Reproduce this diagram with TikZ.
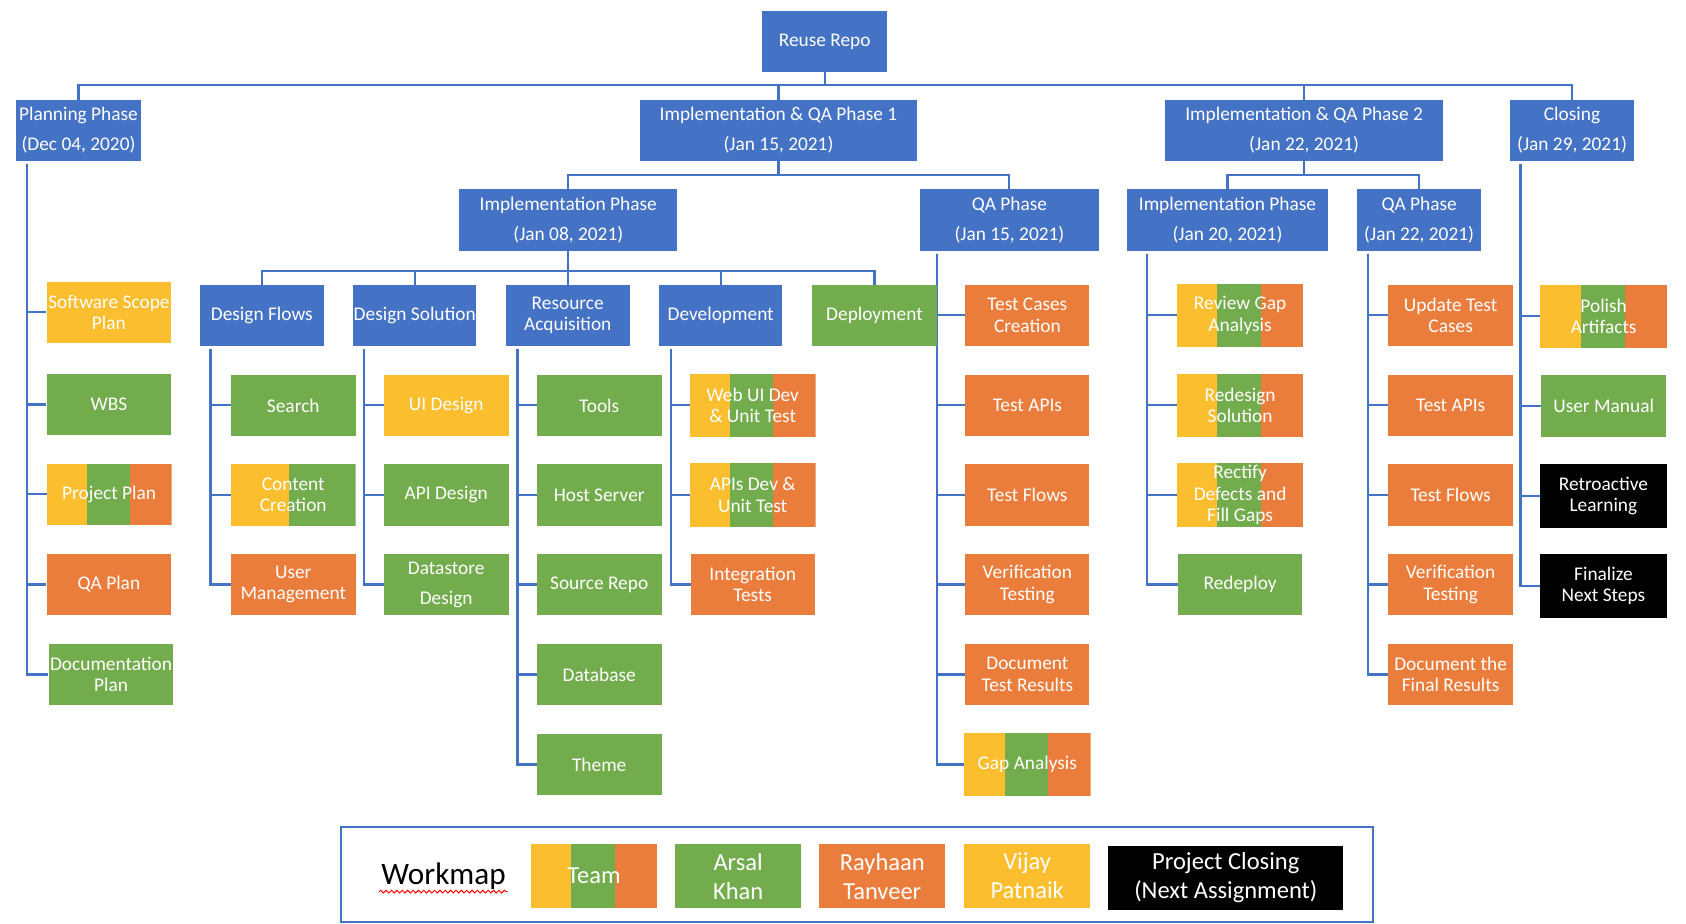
\documentclass[tikz,border=0pt]{standalone}
\usepackage{fontspec}
\setmainfont{Carlito}
\usetikzlibrary{calc,backgrounds,decorations.pathmorphing}
\definecolor{cb}{HTML}{4472C4}
\definecolor{co}{HTML}{EB7D3C}
\definecolor{cg}{HTML}{72AC4D}
\definecolor{cy}{HTML}{FBBE2E}
\begin{document}
\begin{tikzpicture}[x=1pt,y=-1pt,
  lvl/.style={fill=cb, text=white, inner sep=0pt, align=center, font=\fontsize{18}{28}\selectfont},
  box/.style={fill=#1, text=white, minimum width=116pt, minimum height=57pt, inner sep=0pt, align=center, font=\fontsize{18}{20}\selectfont},
  tri/.style={box=none, path picture={
    \path (path picture bounding box.south west) coordinate (ppA)
          (path picture bounding box.north east) coordinate (ppB);
    \fill[cy] (ppA) rectangle ($(ppA|-ppB)!0.32!(ppB)$);
    \fill[cg] ($(ppA)!0.32!(ppB|-ppA)$) rectangle ($(ppA|-ppB)!0.665!(ppB)$);
    \fill[co] ($(ppA)!0.665!(ppB|-ppA)$) rectangle (ppB);
  }},
  duo/.style={box=none, path picture={
    \path (path picture bounding box.south west) coordinate (ppA)
          (path picture bounding box.north east) coordinate (ppB);
    \fill[cy] (ppA) rectangle ($(ppA|-ppB)!0.463!(ppB)$);
    \fill[cg] ($(ppA)!0.463!(ppB|-ppA)$) rectangle (ppB);
  }},
  leg/.style={minimum width=117pt, minimum height=59.2pt, inner sep=0pt, align=center, text=white, font=\fontsize{22.8}{27}\selectfont},
  conn/.style={draw=cb, line width=2pt}
]
\useasboundingbox (0,0) rectangle (1568,859.3);

% ---- top levels
\node[lvl, minimum width=116pt, minimum height=56.4pt] (repo) at (767,38.5) {Reuse Repo};
\node[lvl, minimum width=116pt, minimum height=56.5pt] (plan) at (73,121.3) {Planning Phase\\(Dec 04, 2020)};
\node[lvl, minimum width=258pt, minimum height=56.5pt] (iqa1) at (724,121.3) {Implementation \& QA Phase 1\\(Jan 15, 2021)};
\node[lvl, minimum width=258.2pt, minimum height=56.5pt] (iqa2) at (1212.8,121.3) {Implementation \& QA Phase 2\\(Jan 22, 2021)};
\node[lvl, minimum width=114.6pt, minimum height=56.5pt] (clos) at (1462,121.3) {Closing\\(Jan 29, 2021)};

\node[lvl, minimum width=203pt, minimum height=57.4pt] (ip1) at (528.5,204.5) {Implementation Phase\\(Jan 08, 2021)};
\node[lvl, minimum width=166.1pt, minimum height=57.4pt] (qa1) at (938.75,204.5) {QA Phase\\(Jan 15, 2021)};
\node[lvl, minimum width=186.5pt, minimum height=57.4pt] (ip2) at (1141.55,204.5) {Implementation Phase\\(Jan 20, 2021)};
\node[lvl, minimum width=115pt, minimum height=57.4pt] (qa2) at (1319.8,204.5) {QA Phase\\(Jan 22, 2021)};

\node[box=cb, minimum width=115pt] (df) at (243.5,293.3) {Design Flows};
\node[box=cb, minimum width=114.5pt] (ds) at (385.75,293.3) {Design Solution};
\node[box=cb, minimum width=115pt] (ra) at (528,293.3) {Resource\\Acquisition};
\node[box=cb, minimum width=114.5pt] (dev) at (670.25,293.3) {Development};
\node[box=cg, minimum width=116.6pt] (dep) at (813.3,293.3) {Deployment};

% ---- planning children
\node[box=cy] (ssp) at (101.3,290.5) {Software Scope\\Plan};
\node[box=cg] (wbs) at (101.3,376.2) {WBS};
\node[tri] (pp) at (101.5,459.8) {Project Plan};
\node[box=co] (qap) at (101.3,543.6) {QA Plan};
\node[box=cg] (docp) at (103.3,627.3) {Documentation\\Plan};

% ---- design flows children
\node[box=cg] (search) at (272.75,377) {Search};
\node[duo] (cc) at (272.75,460.3) {Content\\Creation};
\node[box=co] (um) at (272.75,543.6) {User\\Management};

% ---- design solution children
\node[box=cy] (uid) at (415,377) {UI Design};
\node[box=cg] (apid) at (415,460.3) {API Design};
\node[box=cg, font=\fontsize{18}{28}\selectfont] (dsd) at (415,543.6) {Datastore\\Design};

% ---- resource acquisition children
\node[box=cg] (tools) at (557.25,377) {Tools};
\node[box=cg] (hs) at (557.25,460.3) {Host Server};
\node[box=cg] (sr) at (557.25,543.6) {Source Repo};
\node[box=cg] (db) at (557.25,627.3) {Database};
\node[box=cg] (theme) at (557.25,711) {Theme};

% ---- development children
\node[tri, minimum width=117pt, minimum height=58pt] (wud) at (700,377) {Web UI Dev\\\& Unit Test};
\node[tri, minimum width=117pt, minimum height=59pt] (apd) at (700,460.3) {APIs Dev \&\\Unit Test};
\node[box=co, minimum width=115pt] (it) at (700,543.6) {Integration\\Tests};

% ---- QA phase 1 children
\node[box=co, minimum width=115.5pt] (tcc) at (955.45,293.3) {Test Cases\\Creation};
\node[box=co, minimum width=115.5pt] (tapi1) at (955.45,377) {Test APIs};
\node[box=co, minimum width=115.5pt] (tf1) at (955.45,460.3) {Test Flows};
\node[box=co, minimum width=115.5pt] (vt1) at (955.45,543.6) {Verification\\Testing};
\node[box=co, minimum width=115.5pt] (dtr) at (955.45,627.3) {Document\\Test Results};
\node[tri, minimum width=117.5pt, minimum height=58.3pt] (ga) at (955.45,711) {Gap Analysis};

% ---- impl phase 2 children
\node[tri, minimum width=117pt, minimum height=58.3pt] (rga) at (1153.3,293.3) {Review Gap\\Analysis};
\node[tri, minimum width=117pt, minimum height=58.2pt] (rds) at (1153.3,377) {Redesign\\Solution};
\node[tri, minimum width=117pt, minimum height=59.3pt] (rdf) at (1153.3,460.3) {Rectify\\Defects and\\Fill Gaps};
\node[box=cg, minimum width=115.2pt] (rdp) at (1153.3,543.6) {Redeploy};

% ---- QA phase 2 children
\node[box=co, minimum width=115.6pt] (utc) at (1349.1,293.3) {Update Test\\Cases};
\node[box=co, minimum width=115.6pt] (tapi2) at (1349.1,377) {Test APIs};
\node[box=co, minimum width=115.6pt] (tf2) at (1349.1,460.3) {Test Flows};
\node[box=co, minimum width=115.6pt] (vt2) at (1349.1,543.6) {Verification\\Testing};
\node[box=co, minimum width=115.6pt] (dfr) at (1349.1,627.3) {Document the\\Final Results};

% ---- closing children
\node[tri, minimum width=118pt, minimum height=58.4pt] (pa) at (1491.4,294.2) {Polish\\Artifacts};
\node[box=cg, minimum width=116pt, minimum height=57.4pt] (uman) at (1491.4,377.5) {User Manual};
\node[box=black, minimum width=118pt, minimum height=59.2pt] (rl) at (1491.2,461.3) {Retroactive\\Learning};
\node[box=black, minimum width=118pt, minimum height=59.2pt] (fns) at (1491.2,545) {Finalize\\Next Steps};

% ---- legend
\node[draw=cb, line width=2pt, minimum width=959.3pt, minimum height=87.8pt, inner sep=0pt] (legframe) at (797.15,813.2) {};
\node[text=black, inner sep=0pt, font=\fontsize{29}{30}\selectfont] (wm) at (412.5,814.5) {Workmap};
\draw[red, line width=0.9pt, decorate, decoration={snake, amplitude=1.3pt, segment length=5pt}] (352.5,829.2) -- (472.2,829.2);
\node[tri, leg] (lteam) at (552.5,814.8) {Team};
\node[leg, fill=cg] (larsal) at (686.5,814.8) {Arsal\\Khan};
\node[leg, fill=co] (lray) at (820.5,814.8) {Rayhaan\\Tanveer};
\node[leg, fill=cy] (lvij) at (955.25,814.8) {Vijay\\Patnaik};
\node[leg, fill=black, minimum width=218.6pt] (lpc) at (1140,816.6) {Project Closing\\(Next Assignment)};

% ---- connectors
\begin{scope}[on background layer]
\coordinate (bus0) at (767,79);
\draw[conn] (repo.south) -- (bus0);
\draw[conn] (plan.north) |- (bus0) -| (clos.north);
\draw[conn] (bus0) -| (iqa1.north);
\draw[conn] (bus0) -| (iqa2.north);

\coordinate (bus1) at (724,162.8);
\draw[conn] (iqa1.south) -- (bus1);
\draw[conn] (ip1.north) |- (bus1) -| (qa1.north);

\coordinate (bus2) at (1212.8,162.8);
\draw[conn] (iqa2.south) -- (bus2);
\draw[conn] (ip2.north) |- (bus2) -| (qa2.north);

\coordinate (bus3) at (528.5,251.8);
\draw[conn] (ip1.south) -- (bus3);
\draw[conn] (df.north) |- (bus3) -| (dep.north);
\draw[conn] (bus3) -| (ds.north);
\draw[conn] (bus3) -| (ra.north);
\draw[conn] (bus3) -| (dev.north);

\coordinate (vplan) at ([xshift=10.5pt,yshift=-2.5pt]plan.south west);
\foreach \c in {ssp,wbs,pp,qap,docp} \draw[conn] (vplan) |- (\c.west);
\coordinate (vdf) at ([xshift=10pt,yshift=-2.5pt]df.south west);
\foreach \c in {search,cc,um} \draw[conn] (vdf) |- (\c.west);
\coordinate (vds) at ([xshift=10pt,yshift=-2.5pt]ds.south west);
\foreach \c in {uid,apid,dsd} \draw[conn] (vds) |- (\c.west);
\coordinate (vra) at ([xshift=11pt,yshift=-2.5pt]ra.south west);
\foreach \c in {tools,hs,sr,db,theme} \draw[conn] (vra) |- (\c.west);
\coordinate (vdev) at ([xshift=11pt,yshift=-2.5pt]dev.south west);
\foreach \c in {wud,apd,it} \draw[conn] (vdev) |- (\c.west);
\coordinate (vqa1) at ([xshift=15.9pt,yshift=-2.5pt]qa1.south west);
\foreach \c in {tcc,tapi1,tf1,vt1,dtr,ga} \draw[conn] (vqa1) |- (\c.west);
\coordinate (vip2) at ([xshift=18.5pt,yshift=-2.5pt]ip2.south west);
\foreach \c in {rga,rds,rdf,rdp} \draw[conn] (vip2) |- (\c.west);
\coordinate (vqa2) at ([xshift=10pt,yshift=-2.5pt]qa2.south west);
\foreach \c in {utc,tapi2,tf2,vt2,dfr} \draw[conn] (vqa2) |- (\c.west);
\coordinate (vclos) at ([xshift=9.6pt,yshift=-2.5pt]clos.south west);
\foreach \c in {pa,uman,rl,fns} \draw[conn] (vclos) |- (\c.west);
\end{scope}
\end{tikzpicture}
\end{document}
